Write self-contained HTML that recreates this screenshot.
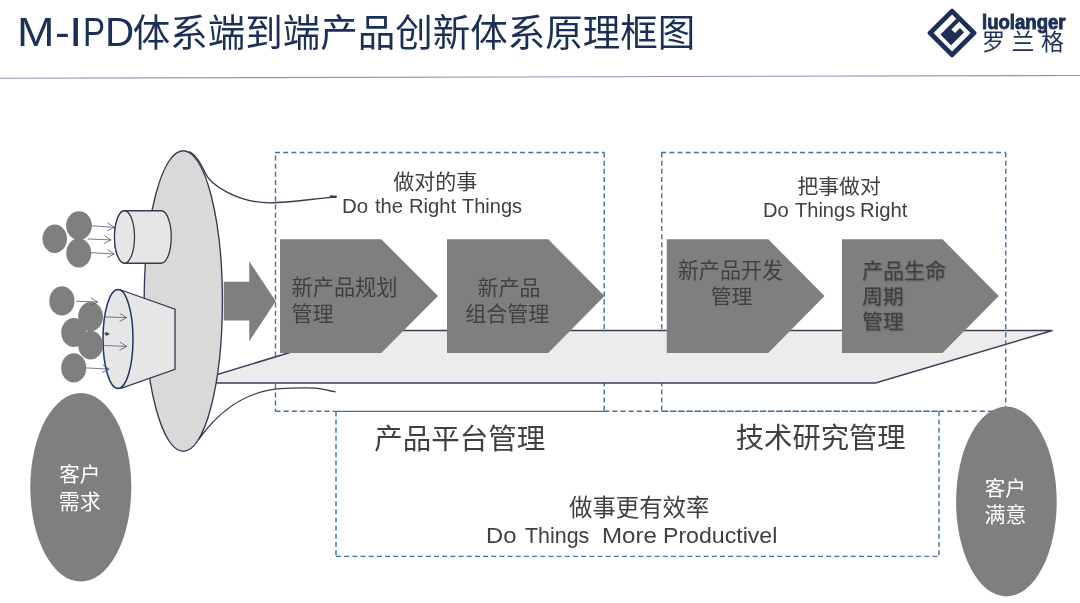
<!DOCTYPE html>
<html lang="zh-CN">
<head>
<meta charset="utf-8">
<title>M-IPD体系端到端产品创新体系原理框图</title>
<style>
html,body{margin:0;padding:0;background:#fff}
body{width:1080px;height:603px;position:relative;overflow:hidden;font-family:"Liberation Sans",sans-serif}
svg{position:absolute;left:0;top:0;display:block}
#text{position:absolute;left:0;top:0;width:1080px;height:603px;will-change:transform}
.ln{position:absolute;left:0;width:1080px;height:0;line-height:0;white-space:pre;font-kerning:none}
.l{position:absolute;top:0;display:block;transform-origin:0 0}
.c{position:absolute;white-space:nowrap;color:#404040;overflow:visible;font-family:"Liberation Sans","Noto Sans CJK SC",sans-serif}
.sh{text-shadow:0.8px 1px 1.8px rgba(0,0,0,0.35)}
.fat{-webkit-text-stroke:0.9px #1b2f57}
</style>
</head>
<body>
<svg width="1080" height="603" viewBox="0 0 1080 603">
<line x1="0" y1="78.3" x2="1080" y2="75.5" stroke="#8a95b1" stroke-width="1.1"/>
<g fill="none" stroke="#41719c" stroke-width="1.4" stroke-dasharray="5 3.17"><path d="M275 152.5H604.2M275.5 155.5V411.3M604.2 152.5V411.3M275.5 411.3H332"/><path d="M661.2 152.5H1005.7M661.7 152.5V411.3M939 411.3H1005.7"/><path d="M336 411.3V556.4M336 556.4H939M939 411.3V556.4M604.2 411.3H661.7"/></g>
<path d="M332.5 411.3H604.2" fill="none" stroke="#41719c" stroke-width="1.2"/>
<path d="M661.7 411.3H939" fill="none" stroke="#41719c" stroke-width="1.4" stroke-dasharray="6.7 1.47"/>
<path d="M200 383H875.5L1052.5 330.5H362.4L200 379.8Z" fill="#ececec" stroke="#3d3d57" stroke-width="1.5" stroke-linejoin="miter"/>
<path d="M1005.7 152.5V411.3" fill="none" stroke="#41719c" stroke-width="1.4" stroke-dasharray="5 3.17"/>
<g fill="none" stroke="#383852" stroke-width="1.35"><path d="M189 151.6C196 154 201 164 205 172.5C210 185 238 202.8 270 202.8C290 202.8 315 198.5 336.5 196.9"/><path d="M329.8 196.3L336.6 196.8" stroke-width="2.3"/><path d="M198.5 439.5C214 418 240 390 285 388.3S320 390 335.5 391.8"/></g>
<g fill="#7f7f7f"><path d="M223.75 281.75H249.25V261.25L275.75 301.25L249.25 341.25V320.5H223.75Z"/><path d="M280 239.25H381.25L438 296L381.25 353H280Z"/><path d="M447 239.25H548.25L604.5 296L548.25 353H447Z"/><path d="M666.75 239.25H768.25L824.5 296L768.25 353H666.75Z"/><path d="M842 239.25H942.5L998.75 296L942.5 353H842Z"/></g>
<ellipse cx="183.3" cy="301" rx="39.1" ry="150.3" fill="#d9d9d9" stroke="#383852" stroke-width="1.35"/>
<g fill="#e6e6e6" stroke="#383852" stroke-width="1.3"><path d="M124.5 210.75H161.25A10 26.25 0 0 1 161.25 263.25H124.5A10 26.25 0 0 1 124.5 210.75Z"/><ellipse cx="124.5" cy="237" rx="10" ry="26.25"/></g>
<g fill="#e6e6e6" stroke="#383852" stroke-width="1.3"><path d="M121 290L175 309.25V369.25L121 388.3Z"/><ellipse cx="118" cy="339" rx="15" ry="49.6" stroke="#1f3864" stroke-width="1.5"/></g>
<g fill="#7f7f7f"><ellipse cx="79" cy="225.6" rx="12.9" ry="14.4"/><ellipse cx="54.75" cy="238.75" rx="12.25" ry="14.25"/><ellipse cx="78.75" cy="253" rx="12.5" ry="14.4"/><ellipse cx="61.9" cy="300.9" rx="12.6" ry="14.6"/><ellipse cx="90.6" cy="316.6" rx="12.4" ry="14.6"/><ellipse cx="73.75" cy="332.5" rx="12.5" ry="14.5"/><ellipse cx="90.6" cy="345.1" rx="12.4" ry="14.4"/><ellipse cx="73.75" cy="367.9" rx="12.5" ry="14.6"/></g>
<path fill="none" stroke="#3b4a6b" stroke-opacity="0.8" stroke-width="0.9" d="M91.9 225.8L114.3 227.3M107.0 230.8L114.3 227.3L107.6 222.8M87.7 239.0L111.0 239.9M103.9 243.6L111.0 239.9L104.2 235.6M91.0 252.7L114.3 254.0M107.1 257.6L114.3 254.0L107.5 249.6M76.0 301.2L97.6 302.0M90.5 305.7L97.6 302.0L90.8 297.7M103.6 316.9L126.7 317.6M119.6 321.4L126.7 317.6L119.8 313.4M103.6 345.5L126.7 346.4M119.5 350.1L126.7 346.4L119.9 342.1M85.7 367.9L109.1 369.1M101.9 372.7L109.1 369.1L102.3 364.7"/>
<path fill="#3a3f55" stroke="#3a3f55" stroke-width="0.7" stroke-linejoin="round" d="M102 333.3L107 333.8M109.3 334L106 332.2L105.8 335.4Z"/>
<ellipse cx="80.8" cy="487.3" rx="50.5" ry="94.3" fill="#7f7f7f"/>
<ellipse cx="1006.4" cy="501.5" rx="50.3" ry="94.9" fill="#7f7f7f"/>
<g transform="translate(952.05 33.0) rotate(-45) translate(-17.8 -17.8)" fill="#1b2f57"><path fill-rule="evenodd" d="M1.6 0H34.0Q35.6 0 35.6 1.6V34.0Q35.6 35.6 34.0 35.6H1.6Q0 35.6 0 34.0V1.6Q0 0 1.6 0ZM4.7 4.7V30.900000000000002H30.900000000000002V4.7Z"/><path d="M8.5 10.7H31.1V14.8H19.9V19.9H26.9V25.7H8.5Z"/></g>
</svg>
<div id="text">
<div class="ln " style="top:31.65px;font-size:41.13px;color:#1b2f57"><span class="l" style="left:17.31px;transform:scaleX(1.0939)">M</span><span class="l" style="left:55.12px;transform:scaleX(1.0854)">-</span><span class="l" style="left:69.25px;transform:scaleX(1.1730)">I</span><span class="l" style="left:83.09px;transform:scaleX(0.8039)">P</span><span class="l" style="left:104.89px;transform:scaleX(0.9810)">D</span></div>
<div class="c" style="left:132.7px;top:13.7px;width:560.9px;height:38.4px;font-size:37.5px;line-height:38.4px;color:#1b2f57">体系端到端产品创新体系原理框图</div>
<div class="ln fat" style="top:21.81px;font-size:19.60px;color:#1b2f57;font-weight:bold"><span class="l" style="left:982.30px;transform:scaleX(0.9475)">luolanger</span></div>
<div class="c" style="left:981.9px;top:30.9px;width:83.3px;height:23.5px;font-size:23px;letter-spacing:6.6px;line-height:23.5px;color:#1b2f57">罗兰格</div>
<div class="c" style="left:393.3px;top:171.0px;width:83.0px;height:22.7px;font-size:21px;line-height:22.7px">做对的事</div>
<div class="ln " style="top:205.70px;font-size:19.62px;color:#404040"><span class="l" style="left:341.62px;transform:scaleX(1.0420)">Do</span> <span class="l" style="left:375.39px;transform:scaleX(1.0303)">the</span> <span class="l" style="left:409.24px;transform:scaleX(1.0306)">Right</span> <span class="l" style="left:462.35px;transform:scaleX(1.0200)">Things</span></div>
<div class="c" style="left:797.5px;top:174.6px;width:82.4px;height:23.0px;font-size:20.8px;line-height:23.0px">把事做对</div>
<div class="ln " style="top:209.75px;font-size:19.48px;color:#404040"><span class="l" style="left:763.45px;transform:scaleX(1.0319)">Do</span> <span class="l" style="left:794.55px;transform:scaleX(1.0294)">Things</span> <span class="l" style="left:860.33px;transform:scaleX(1.0428)">Right</span></div>
<div class="c" style="left:291.5px;top:277.0px;width:105.0px;height:22.2px;font-size:21.2px;line-height:22.2px">新产品规划</div>
<div class="c" style="left:291.5px;top:302.8px;width:42.2px;height:22.0px;font-size:21px;line-height:22.0px">管理</div>
<div class="c" style="left:477.5px;top:277.0px;width:62.5px;height:22.2px;font-size:21px;line-height:22.2px">新产品</div>
<div class="c" style="left:465.3px;top:302.8px;width:83.8px;height:22.0px;font-size:21px;line-height:22.0px">组合管理</div>
<div class="c" style="left:677.7px;top:259.8px;width:105.5px;height:22.5px;font-size:21.1px;line-height:22.5px">新产品开发</div>
<div class="c" style="left:710.7px;top:286.0px;width:41.2px;height:22.0px;font-size:20.8px;line-height:22.0px">管理</div>
<div class="c sh" style="left:862.0px;top:259.8px;width:83.8px;height:21.8px;font-size:21px;line-height:21.8px">产品生命</div>
<div class="c sh" style="left:862.0px;top:285.8px;width:41.2px;height:21.5px;font-size:20.8px;line-height:21.5px">周期</div>
<div class="c sh" style="left:862.0px;top:311.0px;width:41.2px;height:21.2px;font-size:20.8px;line-height:21.2px">管理</div>
<div class="c" style="left:374.3px;top:423.8px;width:169.9px;height:30.2px;font-size:28.5px;line-height:30.2px">产品平台管理</div>
<div class="c" style="left:735.8px;top:423.0px;width:168.2px;height:30.4px;font-size:28.3px;line-height:30.4px">技术研究管理</div>
<div class="c" style="left:569.0px;top:496.0px;width:139.4px;height:25.0px;font-size:23.4px;line-height:25.0px">做事更有效率</div>
<div class="ln " style="top:535.85px;font-size:21.80px;color:#404040"><span class="l" style="left:486.15px;transform:scaleX(1.0927)">Do</span> <span class="l" style="left:525.42px;transform:scaleX(0.9819)">Things</span> <span class="l" style="left:601.82px;transform:scaleX(1.1062)">More</span> <span class="l" style="left:662.90px;transform:scaleX(1.0602)">Productivel</span></div>
<div class="c" style="left:59.2px;top:463.9px;width:40.4px;height:22.5px;font-size:20.6px;line-height:22.5px;color:#ffffff">客户</div>
<div class="c" style="left:58.8px;top:490.7px;width:42.0px;height:21.5px;font-size:21px;line-height:21.5px;color:#ffffff">需求</div>
<div class="c" style="left:984.7px;top:477.9px;width:40.8px;height:22.3px;font-size:20.6px;line-height:22.3px;color:#ffffff">客户</div>
<div class="c" style="left:984.4px;top:504.0px;width:42.0px;height:21.5px;font-size:21px;line-height:21.5px;color:#ffffff">满意</div>
</div>
</body>
</html>
